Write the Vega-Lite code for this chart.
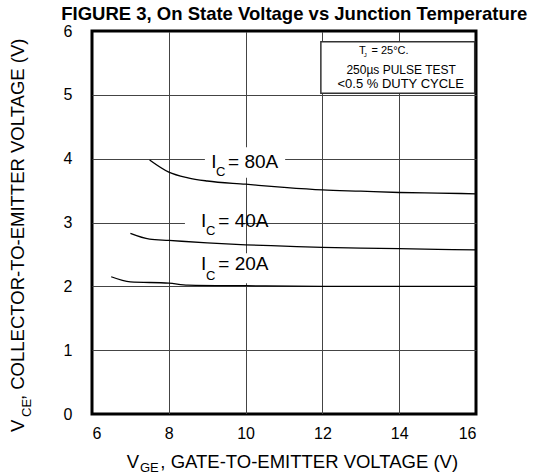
{
  "$schema": "https://vega.github.io/schema/vega-lite/v6.json",
  "width": 384,
  "height": 383,
  "autosize": {"type": "none"},
  "padding": {"left": 92, "top": 31, "right": 57, "bottom": 61},
  "background": "white",
  "config": {
    "font": "Liberation Sans",
    "view": {"stroke": "black", "strokeWidth": 3},
    "axis": {
      "grid": true,
      "gridWidth": 1,
      "gridOpacity": 1,
      "domain": false,
      "ticks": false,
      "labelFont": "Liberation Sans",
      "labelFontSize": 16,
      "labelColor": "black"
    }
  },
  "encoding": {
    "x": {
      "field": "x",
      "type": "quantitative",
      "title": null,
      "scale": {"domain": [6, 16], "nice": false, "zero": false},
      "axis": {"values": [6, 8, 10, 12, 14, 16], "labelPadding": 11,
        "gridColor": {"condition": {"test": "datum.value == 6 || datum.value == 16", "value": "black"}, "value": "#444"}}
    },
    "y": {
      "field": "y",
      "type": "quantitative",
      "title": null,
      "scale": {"domain": [0, 6], "nice": false, "zero": false},
      "axis": {"values": [0, 1, 2, 3, 4, 5, 6], "labelPadding": 20,
        "gridColor": {"condition": {"test": "datum.value == 0 || datum.value == 6", "value": "black"}, "value": "#444"}}
    }
  },
  "layer": [
    {
      "data": {"values": [
        {"x": 8.94, "x2": 11.03, "y": 3.70, "y2": 4.18},
        {"x": 8.42, "x2": 9.96, "y": 2.80, "y2": 3.17},
        {"x": 8.7, "x2": 10.8, "y": 2.05, "y2": 2.52}
      ]},
      "mark": {"type": "rect", "fill": "white", "strokeWidth": 0},
      "encoding": {"x2": {"field": "x2"}, "y2": {"field": "y2"}}
    },
    {
      "data": {"values": [{"x": 11.96, "x2": 15.966, "y": 5.024, "y2": 5.833}]},
      "mark": {"type": "rect", "fill": "white", "stroke": "#333", "strokeWidth": 1.5},
      "encoding": {"x2": {"field": "x2"}, "y2": {"field": "y2"}}
    },
    {
      "data": {"values": [
        {"s": "80A", "x": 7.5, "y": 3.98}, {"s": "80A", "x": 8.0, "y": 3.79}, {"s": "80A", "x": 8.5, "y": 3.70},
        {"s": "80A", "x": 9.0, "y": 3.65}, {"s": "80A", "x": 10, "y": 3.60}, {"s": "80A", "x": 11, "y": 3.55},
        {"s": "80A", "x": 12, "y": 3.51}, {"s": "80A", "x": 13, "y": 3.49}, {"s": "80A", "x": 14, "y": 3.47},
        {"s": "80A", "x": 15, "y": 3.46}, {"s": "80A", "x": 16, "y": 3.45},
        {"s": "40A", "x": 7.0, "y": 2.83}, {"s": "40A", "x": 7.5, "y": 2.74}, {"s": "40A", "x": 8.0, "y": 2.72},
        {"s": "40A", "x": 9.0, "y": 2.68}, {"s": "40A", "x": 10, "y": 2.65}, {"s": "40A", "x": 11, "y": 2.63},
        {"s": "40A", "x": 12, "y": 2.61}, {"s": "40A", "x": 13, "y": 2.60}, {"s": "40A", "x": 14, "y": 2.59},
        {"s": "40A", "x": 15, "y": 2.58}, {"s": "40A", "x": 16, "y": 2.57},
        {"s": "20A", "x": 6.5, "y": 2.15}, {"s": "20A", "x": 7.0, "y": 2.07}, {"s": "20A", "x": 8.0, "y": 2.05},
        {"s": "20A", "x": 8.5, "y": 2.02}, {"s": "20A", "x": 10, "y": 2.01}, {"s": "20A", "x": 12, "y": 2.0},
        {"s": "20A", "x": 14, "y": 2.0}, {"s": "20A", "x": 16, "y": 2.0}
      ]},
      "mark": {"type": "line", "color": "black", "strokeWidth": 1.3, "interpolate": "monotone"},
      "encoding": {"detail": {"field": "s"}}
    },
    {
      "data": {"values": [
        {"x": 9.107, "y": 3.849, "t": "I"}, {"x": 9.543, "y": 3.849, "t": "= 80A"},
        {"x": 8.838, "y": 2.934, "t": "I"}, {"x": 9.29, "y": 2.934, "t": "= 40A"},
        {"x": 8.838, "y": 2.256, "t": "I"}, {"x": 9.29, "y": 2.256, "t": "= 20A"}
      ]},
      "mark": {"type": "text", "fontSize": 19, "align": "left", "baseline": "alphabetic", "color": "black"},
      "encoding": {"text": {"field": "t"}}
    },
    {
      "data": {"values": [
        {"x": 9.23, "y": 3.729, "t": "C"}, {"x": 8.969, "y": 2.804, "t": "C"}, {"x": 8.969, "y": 2.099, "t": "C"}
      ]},
      "mark": {"type": "text", "fontSize": 13, "align": "left", "baseline": "alphabetic", "color": "black"},
      "encoding": {"text": {"field": "t"}}
    },
    {
      "data": {"values": [
        {"x": 14.05, "y": 5.32, "t": "250µs PULSE TEST"}
      ]},
      "mark": {"type": "text", "fontSize": 12, "align": "center", "baseline": "alphabetic", "color": "black"},
      "encoding": {"text": {"field": "t"}}
    },
    {
      "data": {"values": [
        {"x": 14.04, "y": 5.11, "t": "<0.5 % DUTY CYCLE"}
      ]},
      "mark": {"type": "text", "fontSize": 13, "align": "center", "baseline": "alphabetic", "color": "black"},
      "encoding": {"text": {"field": "t"}}
    },
    {
      "data": {"values": [
        {"x": 12.95, "y": 5.645, "t": "T"}, {"x": 13.277, "y": 5.645, "t": "= 25°C."}
      ]},
      "mark": {"type": "text", "fontSize": 11, "align": "left", "baseline": "alphabetic", "color": "black"},
      "encoding": {"text": {"field": "t"}}
    },
    {
      "data": {"values": [{"x": 13.08, "y": 5.595, "t": "J"}]},
      "mark": {"type": "text", "fontSize": 6, "align": "left", "baseline": "alphabetic", "color": "black"},
      "encoding": {"text": {"field": "t"}}
    },
    {
      "data": {"values": [{"x": 11.266, "y": 6.173, "t": "FIGURE 3,  On State Voltage vs Junction Temperature"}]},
      "mark": {"type": "text", "fontSize": 18.5, "fontWeight": "bold", "align": "center", "baseline": "alphabetic", "color": "black"},
      "encoding": {"text": {"field": "t"}}
    },
    {
      "data": {"values": [
        {"x": 6.906, "y": -0.846, "t": "V"}, {"x": 7.78, "y": -0.846, "t": ", GATE-TO-EMITTER VOLTAGE (V)"}
      ]},
      "mark": {"type": "text", "fontSize": 18.5, "align": "left", "baseline": "alphabetic", "color": "black"},
      "encoding": {"text": {"field": "t"}}
    },
    {
      "data": {"values": [{"x": 7.248, "y": -0.915, "t": "GE"}]},
      "mark": {"type": "text", "fontSize": 13, "align": "left", "baseline": "alphabetic", "color": "black"},
      "encoding": {"text": {"field": "t"}}
    },
    {
      "data": {"values": [
        {"x": 4.217, "y": -0.282, "t": "V"}, {"x": 4.217, "y": 0.219, "t": ", COLLECTOR-TO-EMITTER VOLTAGE (V)"}
      ]},
      "mark": {"type": "text", "fontSize": 18.5, "align": "left", "baseline": "alphabetic", "angle": 270, "color": "black"},
      "encoding": {"text": {"field": "t"}}
    },
    {
      "data": {"values": [{"x": 4.4, "y": -0.047, "t": "CE"}]},
      "mark": {"type": "text", "fontSize": 13, "align": "left", "baseline": "alphabetic", "angle": 270, "color": "black"},
      "encoding": {"text": {"field": "t"}}
    }
  ]
}
